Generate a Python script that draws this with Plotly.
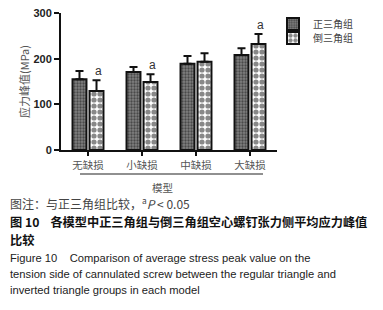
import plotly.graph_objects as go

categories = ["无缺损", "小缺损", "中缺损", "大缺损"]
regular = [155, 171, 189, 208]
regular_err = [18, 11, 17, 15]
inverted = [129, 149, 193, 232]
inverted_err = [24, 17, 19, 22]
sig_inverted = ["a", "a", "", "a"]
series_names = ["正三角组", "倒三角组"]

# page body has an 8px default margin; figure coordinates are page - OFF
OFF = 8
W, H = 367, 294
L, T = 53, 5
R = W - (277 - OFF)
B = H - (150 - OFF)
pw, ph = W - L - R, H - T - B

def px(xpage):
    return (xpage - OFF - L) / pw

def py(ypage):
    return (H - B - (ypage - OFF)) / ph

fig = go.Figure()
fig.add_trace(go.Bar(
    x=categories, y=regular, name=series_names[0], legend="legend",
    marker=dict(color="#777", line=dict(color="#111", width=2),
                pattern=dict(shape=".", fgcolor="#111", bgcolor="#808080", size=3, solidity=0.45)),
    error_y=dict(type="data", symmetric=False, array=regular_err, arrayminus=[0]*4,
                 color="#111", thickness=2, width=4),
))
fig.add_trace(go.Bar(
    x=categories, y=inverted, name=series_names[1], legend="legend2",
    marker=dict(color="white", line=dict(color="#111", width=2),
                pattern=dict(shape=".", fgcolor="#111", bgcolor="white", size=6, solidity=0.6)),
    error_y=dict(type="data", symmetric=False, array=inverted_err, arrayminus=[0]*4,
                 color="#111", thickness=2, width=4),
))

ann = []
for i, s in enumerate(sig_inverted):
    if s:
        ann.append(dict(x=i, y=inverted[i] + inverted_err[i], xref="x", yref="y",
                        text=s, showarrow=False, yanchor="bottom", yshift=0, xshift=10,
                        font=dict(family="Liberation Sans, Arial", size=12, color="#333")))

ann.append(dict(x=px(162), y=py(187), xref="paper", yref="paper", text="模型", showarrow=False,
                yanchor="middle",
                font=dict(family="Noto Sans CJK SC", size=10.5, color="#555")))

cap = [
    (8, 203, "图注：与正三角组比较，<sup>a</sup><i>P</i> < 0.05", 12, "#444", "Noto Sans CJK SC"),
    (8, 222, "<b>图 10    各模型中正三角组与倒三角组空心螺钉张力侧平均应力峰值</b>", 12.2, "#111", "Noto Sans CJK SC"),
    (8, 240, "<b>比较</b>", 12.2, "#111", "Noto Sans CJK SC"),
    (8, 258, "Figure 10    Comparison of average stress peak value on the", 11.2, "#222", "Liberation Sans, Arial"),
    (8, 274, "tension side of cannulated screw between the regular triangle and", 11.2, "#222", "Liberation Sans, Arial"),
    (8, 290, "inverted triangle groups in each model", 11.2, "#222", "Liberation Sans, Arial"),
]
for x, y, t, s, c, f in cap:
    ann.append(dict(x=px(x), y=py(y), xref="paper", yref="paper", text=t, showarrow=False,
                    xanchor="left", yanchor="middle", font=dict(family=f, size=s, color=c)))

leg_common = dict(xanchor="left", yanchor="middle", bgcolor="rgba(0,0,0,0)",
                  font=dict(family="Noto Sans CJK SC", size=10, color="#444"),
                  itemwidth=30, borderwidth=0)

fig.update_layout(
    width=W, height=H, margin=dict(l=L, r=R, t=T, b=B, autoexpand=False),
    paper_bgcolor="white", plot_bgcolor="white",
    barmode="group", bargap=0.37, bargroupgap=0.18,
    font=dict(family="Noto Sans CJK SC", color="#333"),
    showlegend=True,
    legend=dict(x=px(273), y=py(24), **leg_common),
    legend2=dict(x=px(273), y=py(38), **leg_common),
    annotations=ann,
    shapes=[dict(type="line", xref="paper", yref="paper", x0=px(80), x1=px(263),
                 y0=py(174), y1=py(174), line=dict(color="#222", width=1.2))],
    xaxis=dict(showline=True, linecolor="#111", linewidth=2, ticks="outside", ticklen=4,
               tickwidth=1.5, tickcolor="#111", showgrid=False, automargin=False,
               tickfont=dict(family="Noto Sans CJK SC", size=10.5, color="#555")),
    yaxis=dict(range=[0, 300], tickvals=[0, 100, 200, 300], showline=True, linecolor="#111",
               linewidth=2, ticks="outside", ticklen=5, tickwidth=2, tickcolor="#111",
               showgrid=False, zeroline=False, automargin=False, ticklabeloverflow="allow",
               tickfont=dict(family="Liberation Sans, Arial", size=11, color="#222", weight="bold"),
               title=dict(text="应力峰值(MPa)", standoff=2,
                          font=dict(family="Noto Sans CJK SC", size=11, color="#555"))),
)

fig.write_html("out.html")
